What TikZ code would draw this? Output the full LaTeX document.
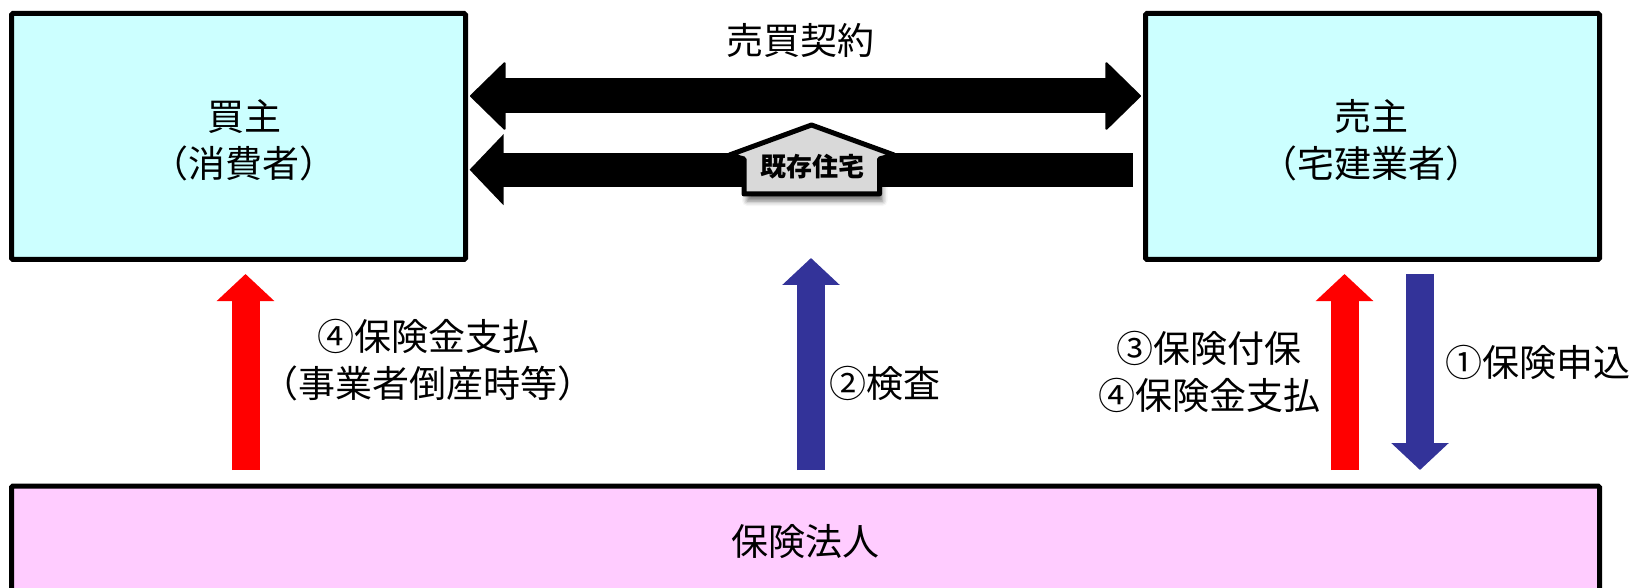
\documentclass[tikz,border=0pt]{standalone}
\usepackage{fontspec}
\setmainfont{Noto Sans CJK JP}
\usetikzlibrary{arrows.meta}
\usetikzlibrary{shadows.blur}

\definecolor{partycolor}{HTML}{CCFFFF}
\definecolor{hojincolor}{HTML}{FFCCFF}
\definecolor{bluearrow}{HTML}{333399}

\begin{document}
\begin{tikzpicture}[
    x=1pt, y=-1pt,
    font=\fontsize{37}{47}\selectfont,
    party node/.style={draw, line width=5pt, rounded corners=1.5pt, fill=partycolor, minimum width=454pt, minimum height=246pt},
    hojin node/.style={draw, line width=5pt, rounded corners=1.5pt, fill=hojincolor, minimum width=1588pt, minimum height=112pt},
    label node/.style={align=center, inner sep=0pt},
    black arrow/.style={line width=35pt, black},
    up arrow/.style={line width=28pt, -{Triangle[length=27pt, width=56pt]}},
    ]
  \clip (0,0) rectangle (1634,588);

  \node[party node] (buyer) at (238.5,136.5) {};
  \node[party node] (seller) at (1372.5,136.5) {};
  \node[hojin node] (hojin) at (805.5,542) {保険法人};

  \node[label node] (buyername) at (244,140) {買主\\（消費者）};
  \node[label node] (sellername) at (1371,140) {売主\\（宅建業者）};
  \node[label node] (contract) at (800,40) {売買契約};
  \node[label node] (claim) at (428,360) {④保険金支払\\（事業者倒産時等）};
  \node[label node] (check) at (885,383) {②検査};
  \node[label node] (issue) at (1209,372) {③保険付保\\④保険金支払};
  \node[label node] (apply) at (1538,362) {①保険申込};

  \coordinate (c1) at (470,96);
  \coordinate (c2) at (1141,96);
  \coordinate (c3) at (1133,169.7);
  \coordinate (c4) at (469.5,169.7);

  \coordinate (r1) at (245.5,470);
  \coordinate (r2) at (245.5,274);
  \coordinate (b1) at (811,470);
  \coordinate (b2) at (811,258);
  \coordinate (r3) at (1344.5,470);
  \coordinate (r4) at (1344.5,274);
  \coordinate (b3) at (1420,274);
  \coordinate (b4) at (1420,470);

  \draw[black arrow, {Triangle[round, line width=2pt, length=36pt, width=70pt]}-{Triangle[round, line width=2pt, length=36pt, width=70pt]}] (c1) -- (c2);
  \draw[black arrow, line width=34pt, -{Triangle[length=34pt, width=69pt]}] (c3) -- (c4);

  \draw[up arrow, red] (r1) -- (r2);
  \draw[up arrow, bluearrow] (b1) -- (b2);
  \draw[up arrow, red] (r3) -- (r4);
  \draw[up arrow, bluearrow] (b3) -- (b4);

  %既存住宅の家
  \draw[line width=5pt, line join=round, fill=black!15,
      blur shadow={shadow xshift=3pt, shadow yshift=-7pt, shadow blur radius=5pt, shadow opacity=55}]
    (811.5,125) -- (894,155) -- (879.5,159) -- (879.5,194) -- (744,194) -- (744,159) -- (729.5,155) -- cycle;
  \node[label node, font=\fontsize{26}{30}\selectfont\bfseries] (house) at (812,167) {既存住宅};
\end{tikzpicture}
\end{document}
